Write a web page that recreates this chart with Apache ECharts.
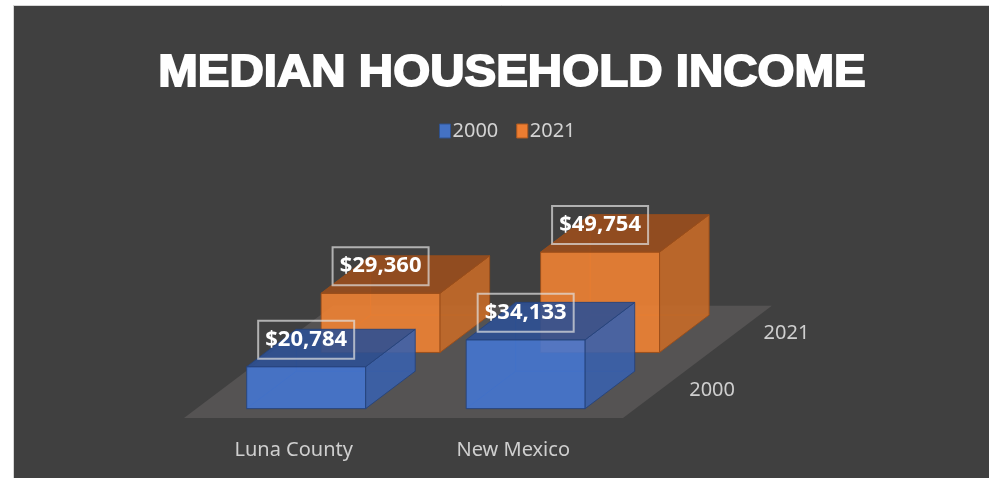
<!DOCTYPE html>
<html>
<head>
<meta charset="utf-8">
<script src="https://cdn.jsdelivr.net/npm/echarts@6/dist/echarts.min.js"></script>
<style>
  html, body { margin: 0; padding: 0; background: #ffffff; }
  #chart { width: 989px; height: 478px; }
</style>
</head>
<body>
<div id="chart"></div>
<script>
// ---- data ----
const categories = ['Luna County', 'New Mexico'];
const years = ['2000', '2021'];
const income2000 = [20784, 34133];
const income2021 = [29360, 49754];
const titleText = 'MEDIAN HOUSEHOLD INCOME';

// ---- 3D look (oblique projection) ----
const SLOPE = 0.755;      // upward shift per pixel of depth
const BAR_RATIO = 0.542;  // bar width relative to the category band
const ROW_RATIO = 0.339;  // depth of one series row relative to the band
const BAR_DEPTH = 0.666;  // bar depth relative to its row
const LABEL_LIFT = 27;    // value box centre above the bar's top front edge

const palettes = [
  { front: '#4576D0', side: '#3A61AC', top: '#2D5093', edge: '#26447C',
    legend: '#4472C4', legendBorder: '#2F528F' },
  { front: '#F08233', side: '#C66A28', top: '#9A4E1D', edge: '#9A4E1A',
    legend: '#ED7D31', legendBorder: '#AE5A21' }
];

const FONT = '"Noto Sans", "Open Sans", sans-serif';

function shift(x, y, d) { return [x + d, y - d * SLOPE]; }

function money(v) { return '$' + v.toLocaleString('en-US'); }

// floor plate plus the depth-axis labels
function renderFloor(params, api) {
  const origin = api.coord([0, 0]);
  const band = api.size([1, 0])[0];
  const rowD = band * ROW_RATIO;
  const x0 = origin[0] - band / 2;
  const x1 = x0 + band * categories.length;
  const y0 = origin[1];
  const depth = rowD * years.length;
  const children = [{
    type: 'polygon',
    shape: { points: [[x0, y0], [x1, y0], shift(x1, y0, depth), shift(x0, y0, depth)] },
    style: { fill: '#555353' }
  }];
  years.forEach((yr, i) => {
    const p = shift(x1, y0, (i + 0.5) * rowD);
    children.push({
      type: 'text',
      style: {
        x: p[0] + 29, y: p[1], text: yr, fill: '#cfcfcf',
        font: '20px ' + FONT, textAlign: 'left', textVerticalAlign: 'middle'
      }
    });
  });
  return { type: 'group', children };
}

function makeBarRenderer(row) {
  return function (params, api) {
    const cat = api.value(0);
    const val = api.value(1);
    const base = api.coord([cat, 0]);
    const top = api.coord([cat, val]);
    const band = api.size([1, 0])[0];
    const w = band * BAR_RATIO;
    const rowD = band * ROW_RATIO;
    const bd = rowD * BAR_DEPTH;
    const d0 = row * rowD + (rowD - bd) / 2;
    const d1 = d0 + bd;
    const xl = base[0] - w / 2, xr = base[0] + w / 2;
    const y0 = base[1], y1 = top[1];
    const fbl = shift(xl, y0, d0), fbr = shift(xr, y0, d0);
    const ftl = shift(xl, y1, d0), ftr = shift(xr, y1, d0);
    const bbl = shift(xl, y0, d1), bbr = shift(xr, y0, d1);
    const btl = shift(xl, y1, d1), btr = shift(xr, y1, d1);
    const pal = palettes[row];
    const edge = { stroke: pal.edge, lineWidth: 1 };
    const face = (pts, fill) => ({
      type: 'polygon', shape: { points: pts },
      style: Object.assign({ fill, opacity: 0.9 }, edge)
    });
    const labelCenter = shift(base[0], y1, d0);
    const cx = labelCenter[0], cy = labelCenter[1] - LABEL_LIFT;
    return {
      type: 'group',
      children: [
        // edges hidden behind the faces, seen through them faintly
        { type: 'polyline', shape: { points: [fbl, bbl, bbr] },
          style: { stroke: pal.edge, lineWidth: 1, fill: null } },
        { type: 'line', shape: { x1: bbl[0], y1: bbl[1], x2: btl[0], y2: btl[1] },
          style: { stroke: pal.edge, lineWidth: 1 } },
        face([fbl, fbr, ftr, ftl], pal.front),
        face([fbr, bbr, btr, ftr], pal.side),
        face([ftl, ftr, btr, btl], pal.top),
        { type: 'rect', shape: { x: cx - 48, y: cy - 19, width: 96, height: 38 },
          style: { fill: null, stroke: 'rgba(225,225,225,0.7)', lineWidth: 2 }, z2: 10 },
        { type: 'text', z2: 11,
          style: { x: cx, y: cy, text: money(val), fill: '#ffffff',
                   font: 'bold 22px ' + FONT, textAlign: 'center', textVerticalAlign: 'middle' } }
      ]
    };
  };
}

const chart = echarts.init(document.getElementById('chart'), null, { renderer: 'canvas' });

chart.setOption({
  backgroundColor: '#ffffff',
  animation: false,
  graphic: [
    { type: 'rect', z: -10, shape: { x: 13.5, y: 5.5, width: 980, height: 480 },
      style: { fill: '#404040', stroke: '#d6d6d6', lineWidth: 1 } },
    { type: 'text', x: 512, y: 74, scaleX: 1.08, z: 10,
      style: { x: 0, y: 0, text: titleText, fill: '#ffffff',
               font: 'bold 44px "Liberation Sans", Arial, sans-serif',
               stroke: '#ffffff', lineWidth: 1.8,
               textAlign: 'center', textVerticalAlign: 'middle' } }
  ],
  legend: {
    left: 434, top: 116,
    itemWidth: 11, itemHeight: 14, itemGap: 18,
    textStyle: { color: '#d3d3d3', fontSize: 20, fontFamily: FONT, padding: [0, 0, 0, -3] },
    data: years.map((y, i) => ({
      name: y, icon: 'rect',
      itemStyle: { color: palettes[i].legend, borderColor: palettes[i].legendBorder, borderWidth: 1 }
    }))
  },
  grid: { left: 184, right: 366, top: 297, bottom: 60 },
  xAxis: {
    type: 'category', data: categories,
    axisLine: { show: false }, axisTick: { show: false },
    axisLabel: { margin: 22, color: '#cfcfcf', fontSize: 20, fontFamily: FONT }
  },
  yAxis: { type: 'value', min: 0, max: 60000, show: false, splitLine: { show: false } },
  series: [
    { type: 'custom', name: 'floor', z: 1, renderItem: renderFloor,
      data: [[0, 0]], encode: { x: 0, y: 1 }, silent: true },
    { type: 'custom', name: years[0], z: 3, renderItem: makeBarRenderer(0),
      itemStyle: { color: palettes[0].legend },
      data: categories.map((c, i) => [i, income2000[i]]), encode: { x: 0, y: 1 } },
    { type: 'custom', name: years[1], z: 2, renderItem: makeBarRenderer(1),
      itemStyle: { color: palettes[1].legend },
      data: categories.map((c, i) => [i, income2021[i]]), encode: { x: 0, y: 1 } }
  ]
});
</script>
</body>
</html>
